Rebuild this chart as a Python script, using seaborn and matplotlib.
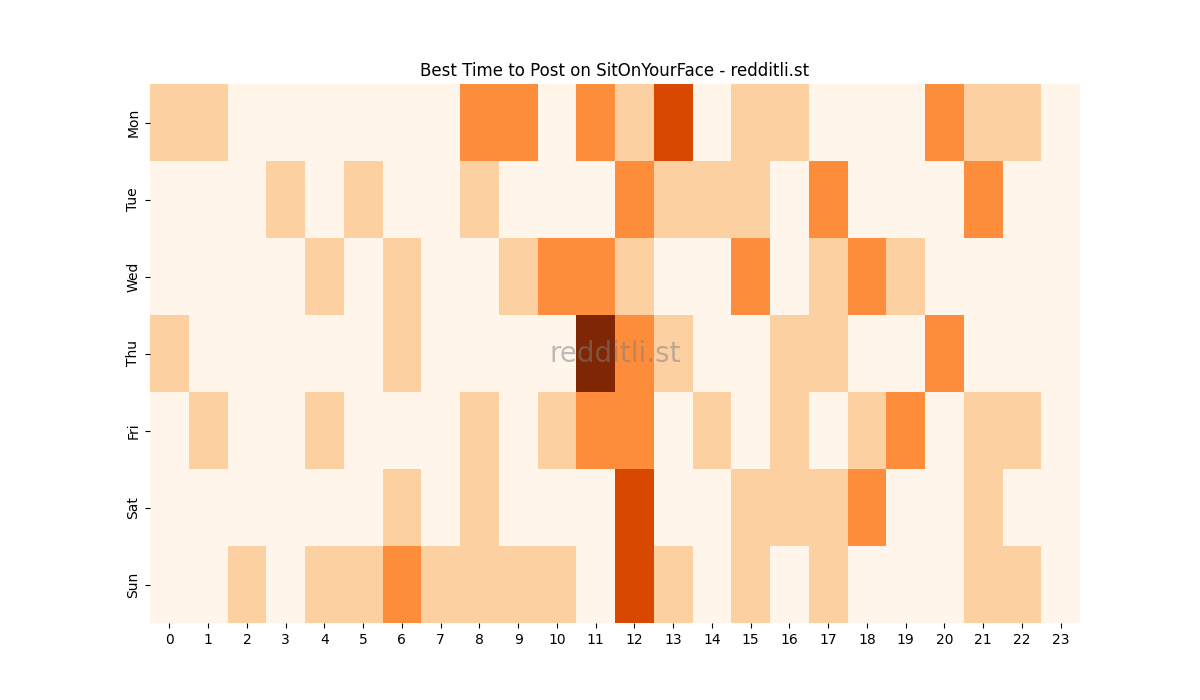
import pandas as pd
import matplotlib
matplotlib.use("Agg")
import matplotlib.pyplot as plt
import seaborn as sns

# ── Data ──────────────────────────────────────────────────────────────────────

days = ["Mon", "Tue", "Wed", "Thu", "Fri", "Sat", "Sun"]
hours = list(range(24))

mon = [1, 1, 0, 0, 0, 0, 0, 0, 2, 2, 0, 2, 1, 3, 0, 1, 1, 0, 0, 0, 2, 1, 1, 0]
tue = [0, 0, 0, 1, 0, 1, 0, 0, 1, 0, 0, 0, 2, 1, 1, 1, 0, 2, 0, 0, 0, 2, 0, 0]
wed = [0, 0, 0, 0, 1, 0, 1, 0, 0, 1, 2, 2, 1, 0, 0, 2, 0, 1, 2, 1, 0, 0, 0, 0]
thu = [1, 0, 0, 0, 0, 0, 1, 0, 0, 0, 0, 4, 2, 1, 0, 0, 1, 1, 0, 0, 2, 0, 0, 0]
fri = [0, 1, 0, 0, 1, 0, 0, 0, 1, 0, 1, 2, 2, 0, 1, 0, 1, 0, 1, 2, 0, 1, 1, 0]
sat = [0, 0, 0, 0, 0, 0, 1, 0, 1, 0, 0, 0, 3, 0, 0, 1, 1, 1, 2, 0, 0, 1, 0, 0]
sun = [0, 0, 1, 0, 1, 1, 2, 1, 1, 1, 1, 0, 3, 1, 0, 1, 0, 1, 0, 0, 0, 1, 1, 0]

df = pd.DataFrame([mon, tue, wed, thu, fri, sat, sun], index=days, columns=hours)

# ── Heatmap ───────────────────────────────────────────────────────────────────

fig, ax = plt.subplots(figsize=(12, 7), dpi=100)
sns.heatmap(df, cmap="Oranges", cbar=False, ax=ax)
ax.set_title("Best Time to Post on SitOnYourFace - redditli.st")
ax.set_xlabel("")
ax.set_ylabel("")
ax.text(0.5, 0.5, "redditli.st", transform=ax.transAxes,
        ha="center", va="center", fontsize=20, color="gray", alpha=0.5)

fig.savefig("out.png", dpi=100)
